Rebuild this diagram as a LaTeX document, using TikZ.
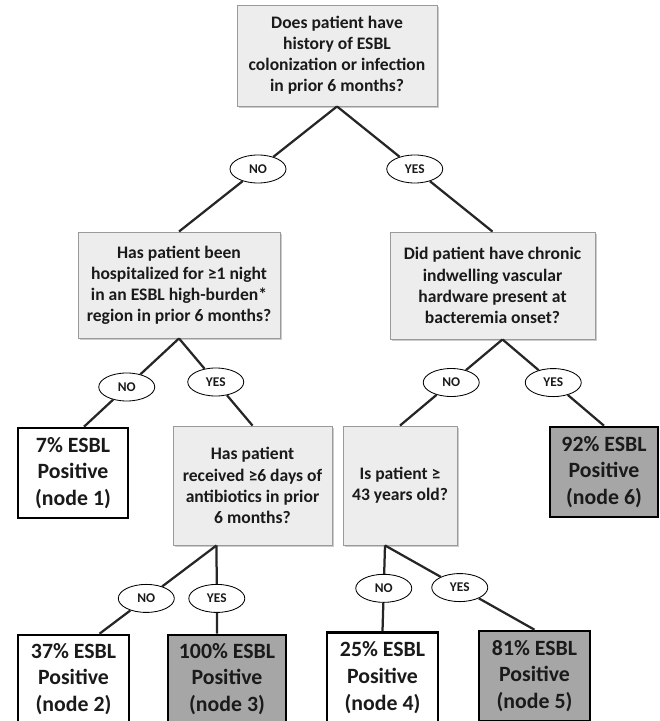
\documentclass[tikz,border=0pt]{standalone}
\usepackage{fontspec}
\setmainfont{Carlito}
\usetikzlibrary{calc, shapes.geometric, shadows}

\begin{document}
\begin{tikzpicture}[x=0.025cm, y=-0.025cm,
    question/.style={draw=borderColour, fill=questionColour, line width=0.6pt, align=center, inner sep=0pt,
        font=\fontsize{12.5}{15}\selectfont\bfseries, text=textColour,
        drop shadow={shadow xshift=1.2pt, shadow yshift=-1.2pt, fill=black!40, opacity=0.5}},
    result/.style={draw=black, fill=white, line width=1.8pt, align=center, inner sep=0pt,
        font=\fontsize{15.5}{19}\selectfont\bfseries, text=textColour},
    resultHigh/.style={result, fill=highColour},
    answer/.style={ellipse, draw=black, fill=white, line width=0.6pt, minimum width=1.4cm, minimum height=0.7cm,
        inner sep=0pt, font=\fontsize{9.5}{11}\selectfont\bfseries, text=textColour},
    branch/.style={draw=lineColour, line width=1.6pt}]

    \definecolor{borderColour}{HTML}{9A9A9A}
    \definecolor{questionColour}{HTML}{EDEDED}
    \definecolor{highColour}{HTML}{A6A6A6}
    \definecolor{textColour}{HTML}{1A1A1A}
    \definecolor{lineColour}{HTML}{262626}

    % Fix the page size
    \useasboundingbox (0,0) rectangle (659,721);

    % Question boxes
    \node[question, minimum width=5cm, minimum height=2.525cm] (root) at (337,55.5)
        {Does patient have\\history of ESBL\\colonization or infection\\in prior 6 months?};
    \node[question, minimum width=5.05cm, minimum height=2.65cm] (q1) at (179,285)
        {Has patient been\\hospitalized for ≥1 night\\in an ESBL high-burden*\\region in prior 6 months?};
    \node[question, minimum width=5.125cm, minimum height=2.675cm] (q2) at (492.5,285.5)
        {Did patient have chronic\\indwelling vascular\\hardware present at\\bacteremia onset?};
    \node[question, minimum width=3.975cm, minimum height=2.975cm] (q3) at (252.5,485.5)
        {Has patient\\received ≥6 days of\\antibiotics in prior\\6 months?};
    \node[question, minimum width=2.85cm, minimum height=2.975cm] (q4) at (400,485.5)
        {Is patient ≥\\43 years old?};

    % Result boxes
    \node[result, minimum width=2.75cm, minimum height=2.25cm] (t1) at (73,473) {7\% ESBL\\Positive\\(node 1)};
    \node[result, minimum width=2.775cm, minimum height=2.2cm] (t2) at (73.5,679) {37\% ESBL\\Positive\\(node 2)};
    \node[resultHigh, minimum width=2.95cm, minimum height=2.2cm] (t3) at (227,679) {100\% ESBL\\Positive\\(node 3)};
    \node[result, minimum width=2.775cm, minimum height=2.25cm] (t4) at (382.5,677.5) {25\% ESBL\\Positive\\(node 4)};
    \node[resultHigh, minimum width=2.775cm, minimum height=2.25cm] (t5) at (534.5,676) {81\% ESBL\\Positive\\(node 5)};
    \node[resultHigh, minimum width=2.7cm, minimum height=2.25cm] (t6) at (604,472) {92\% ESBL\\Positive\\(node 6)};

    % Where the branches leave and meet the boxes
    \coordinate (q2apex) at ($(q2.south)+(10,0)$);
    \coordinate (q3apex) at ($(q3.south)+(-36,0)$);
    \coordinate (q4apex) at ($(q4.south)+(-15,0)$);
    \coordinate (t1top) at ($(t1.north)+(11,0)$);
    \coordinate (t2top) at ($(t2.north)+(26,0)$);
    \coordinate (t3top) at ($(t3.north)+(-10,0)$);

    % Answer labels
    \node[answer] (no1) at ($(root.south)!0.5!(q1.north)$) {NO};
    \node[answer] (yes1) at ($(root.south)!0.5!(q2.north)$) {YES};
    \node[answer] (no2) at ($(q1.south)!0.55!(t1top)$) {NO};
    \node[answer] (yes2) at ($(q1.south)!0.5!(q3.north)$) {YES};
    \node[answer] (no3) at ($(q2apex)!0.5!(q4.north)$) {NO};
    \node[answer] (yes3) at ($(q2apex)!0.5!(t6.north)$) {YES};
    \node[answer] (no4) at ($(q3apex)!0.6!(t2top)$) {NO};
    \node[answer] (yes4) at ($(q3apex)!0.6!(t3top)$) {YES};
    \node[answer] (no5) at ($(q4apex)!0.5!(t4.north)$) {NO};
    \node[answer] (yes5) at ($(q4apex)!0.5!(t5.north)$) {YES};

    % Draw branches
    \draw[branch] (root.south) -- (no1) -- (q1.north);
    \draw[branch] (root.south) -- (yes1) -- (q2.north);
    \draw[branch] (q1.south) -- (no2) -- (t1top);
    \draw[branch] (q1.south) -- (yes2) -- (q3.north);
    \draw[branch] (q2apex) -- (no3) -- (q4.north);
    \draw[branch] (q2apex) -- (yes3) -- (t6.north);
    \draw[branch] (q3apex) -- (no4) -- (t2top);
    \draw[branch] (q3apex) -- (yes4) -- (t3top);
    \draw[branch] (q4apex) -- (no5) -- (t4.north);
    \draw[branch] (q4apex) -- (yes5) -- (t5.north);

\end{tikzpicture}
\end{document}
